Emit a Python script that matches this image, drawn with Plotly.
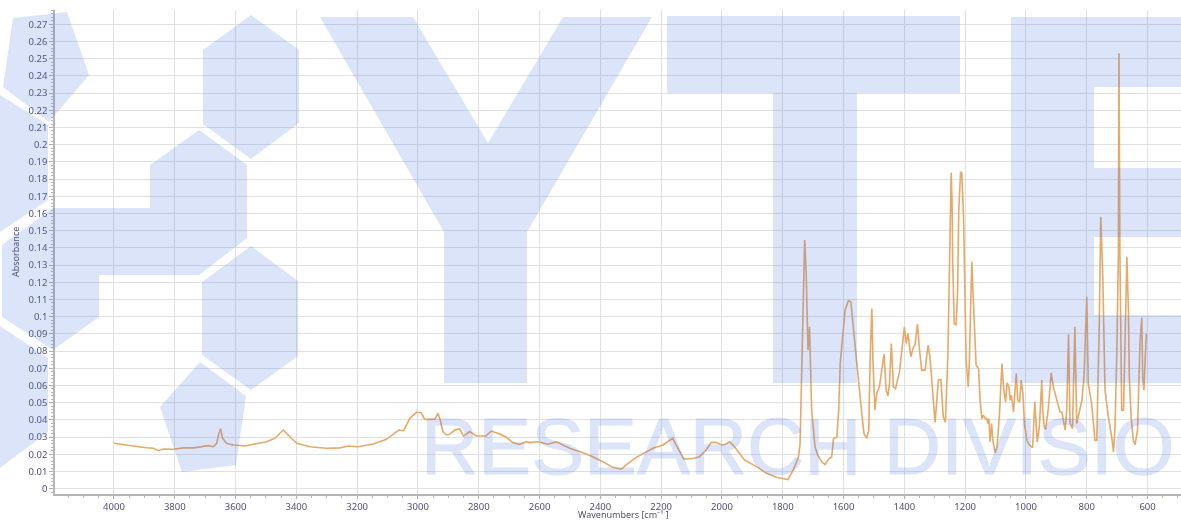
import plotly.graph_objects as go

wavenumbers = [4000,3980,3936,3893,3871,3854,3838,3805,3772,3739,3706,3690,3673,3662,3656,3649,3643,3630,3608,3569,3542,3498,3471,3454,3443,3427,3399,3355,3301,3257,3229,3197,3147,3104,3063,
 3047,3027,3005,2989,2978,2962,2945,2934,2927,2918,2907,2896,2879,2863,2850,2830,2808,2777,2759,2731,2710,2688,2666,2644,2633,2605,2573,2545,2523,2501,2457,2425,2392,2359,2331,2315,2282,2249,2227,2194,2178,2162,2151,2126,2096,2074,2052,2035,2019,1999,1988,1975,1959,1926,1882,1854,1821,1783,
 1765,1748,1743,1740,1735,1732,1728,1723,1720,1717,1712,1709,1705,1699,1694,1685,1677,1672,1661,1650,1639,1633,1622,1616,1611,1604,1595,1584,1576,1567,1559,1551,1540,1533,1524,1517,1513,1507,1503,1497,1491,1482,1474,1467,1460,1454,1449,1443,1436,1429,1416,1405,1400,1394,1388,1379,1370,1365,1357,1349,1343,1332,1322,1316,1307,1299,1288,1280,1272,1265,
 1257,1254,1250,1246,1243,1241,1236,1230,1225,1221,1215,1211,1205,1201,1197,1190,1186,1181,1178,1175,1169,1164,1156,1151,1145,1140,1134,1129,1125,1122,1118,1113,1109,1101,1095,1087,1079,1074,1067,1062,1056,1052,1048,1041,1032,1027,1021,1016,1010,1005,997,988,978,
 971,963,956,948,945,940,935,926,917,910,899,888,882,871,866,860,855,847,839,833,816,809,800,795,784,773,767,764,759,754,747,740,729,718,712,707,701,696,694,691,688,685,679,673,668,663,660,654,647,641,633,625,619,616,612,608,604,600]

absorbance = [.0264,.0260,.0248,.0238,.0235,.0221,.0231,.0229,.0237,.0237,.0246,.0250,.0244,.0264,.0312,.0349,.0293,.0264,.0254,.0248,.0258,.0273,.0293,.0326,.0341,.0312,.0264,.0244,.0235,.0237,.0248,.0244,.0260,.0287,.0341,
 .0337,.0409,.0444,.0442,.0403,.0403,.0403,.0438,.0399,.0332,.0312,.0316,.0341,.0347,.0306,.0332,.0306,.0306,.0335,.0318,.0299,.0268,.0258,.0273,.0268,.0273,.0258,.0272,.0254,.0235,.0209,.0186,.0157,.0124,.0113,.0138,.0182,.0215,.0235,.0254,.0273,.0293,.0254,.0173,.0175,.0186,.0225,.0270,.0268,.0254,.0258,.0273,.0244,.0167,.0124,.0089,.0066,.0053,
 .0111,.0185,.0262,.0476,.0864,.1174,.1446,.1252,.0999,.0806,.0941,.0728,.0456,.0340,.0243,.0195,.0175,.0156,.0140,.0171,.0185,.0292,.0301,.0456,.0728,.0864,.1038,.1093,.1087,.0922,.0767,.0631,.0437,.0321,.0292,.0340,.0728,.1048,.0728,.0456,.0553,.0592,.0709,.0782,.0573,.0540,.0612,.0844,.0592,.0582,.0679,.0883,.0941,.0844,.0903,.0767,.0825,.0835,.0957,.0786,.0689,.0689,.0835,.0767,.0553,.0385,.0632,.0635,.0418,.0385,
 .0766,.1135,.1601,.1837,.1659,.1329,.0960,.0951,.1135,.1620,.1843,.1833,.1562,.1135,.0747,.0592,.0747,.1135,.1319,.1174,.0941,.0718,.0698,.0514,.0407,.0427,.0407,.0407,.0378,.0407,.0272,.0378,.0281,.0208,.0243,.0437,.0728,.0592,.0504,.0615,.0592,.0514,.0543,.0446,.0669,.0514,.0504,.0631,.0553,.0378,.0281,.0252,.0239,
 .0505,.0272,.0359,.0631,.0456,.0359,.0344,.0475,.0673,.0592,.0524,.0446,.0446,.0340,.0456,.0898,.0378,.0349,.0941,.0378,.0514,.0650,.1116,.0611,.0495,.0281,.0281,.0534,.0941,.1581,.1213,.0572,.0417,.0301,.0213,.0359,.0805,.1368,.2532,.1368,.0844,.0456,.0456,.1038,.1348,.1038,.0650,.0417,.0281,.0256,.0340,.0844,.0995,.0650,.0572,.0747,.0902]

X_TITLE = "Wavenumbers [cm\u207b\u00b9 ]"
Y_TITLE = "Absorbance"
WATERMARK_TEXT = "RESEARCH DIVISIO"

W, H = 1181, 521
L, R, T, B = 55, 0, 10, 27
TICK_FONT = dict(family="Noto Sans", size=9.5, color="#50507a")
WM = "rgba(75,120,225,0.20)"

watermark_polys = [
    [(13,18),(67,12),(89,75),(49,122),(3,87)],
    [(0,95),(48,125),(48,200),(0,232)],
    [(0,326),(48,358),(48,432),(0,468)],
    [(199,130),(247,165),(247,238),(199,275),(99,275),(99,317),(53,350),(2,317),(2,245),(53,208),(150,208),(150,165)],
    [(251,15),(299,50),(299,123),(251,159),(203,124),(203,50)],
    [(251,246),(298,281),(298,356),(251,390),(202,355),(202,282)],
    [(200,362),(246,396),(236,465),(182,472),(160,407)],
    [(320,17),(413,17),(488,143),(563,17),(652,17),(527,232),(527,383),(444,383),(444,232)],
    [(667,16),(960,16),(960,93),(857,93),(857,383),(773,383),(773,93),(667,93)],
    [(1011,17),(1181,17),(1181,87),(1094,87),(1094,168),(1181,168),(1181,237),(1094,237),(1094,315),(1181,315),(1181,383),(1011,383)],
]

def to_paper(p):
    return (p[0]-L)/(W-L-R), (H-B-p[1])/(H-T-B)

shapes = []
for poly in watermark_polys:
    pts = [to_paper(p) for p in poly]
    path = "M " + " L ".join(f"{x:.5f},{y:.5f}" for x, y in pts) + " Z"
    shapes.append(dict(type="path", xref="paper", yref="paper", path=path,
                       fillcolor=WM, line=dict(width=0), layer="above"))

TITLE_FONT = dict(family="Noto Sans", size=9, color="#50507a")
fig = go.Figure(go.Scatter(x=wavenumbers, y=absorbance, mode="lines",
                           line=dict(color="#e8a866", width=1.6), hoverinfo="skip"))
fig.update_layout(
    width=W, height=H, margin=dict(l=L, r=R, t=T, b=B, autoexpand=False),
    paper_bgcolor="white", plot_bgcolor="white", showlegend=False,
    shapes=shapes,
    annotations=[
        dict(text=WATERMARK_TEXT, xref="paper", yref="paper",
             x=(423-L-4)/(W-L-R), y=(H-B-476)/(H-T-B), xanchor="left", yanchor="bottom",
             yshift=-17, showarrow=False, align="left", opacity=0.2,
             font=dict(family="Liberation Sans", size=79.3, color="rgb(75,120,225)")),
        dict(text=X_TITLE, xref="paper", yref="paper",
             x=(623-L)/(W-L-R), y=(H-B-521)/(H-T-B), xanchor="center", yanchor="bottom",
             borderpad=0, yshift=-1, showarrow=False, font=TITLE_FONT),
        dict(text=Y_TITLE, xref="paper", yref="paper", textangle=-90,
             x=(15-L)/(W-L-R), y=(H-B-252)/(H-T-B), xanchor="center", yanchor="middle",
             showarrow=False, font=TITLE_FONT),
    ],
    xaxis=dict(range=[4194, 490], dtick=200, tick0=0, ticks="outside", ticklen=3, tickcolor="#b0b0b0",
               showline=True, linecolor="#b5b5b5", linewidth=1.5, showgrid=True, gridcolor="#e0e0e0", gridwidth=1.4,
               zeroline=False, tickfont=TICK_FONT, automargin=False,
               minor=dict(dtick=50, tick0=0, ticks="outside", ticklen=2, tickcolor="#b8b8b8", showgrid=False)),
    yaxis=dict(range=[-0.0031, 0.2783], dtick=0.01, tick0=0, tickformat=".2~f", ticks="outside", ticklen=4, tickcolor="#b0b0b0",
               showline=True, linecolor="#b5b5b5", linewidth=1.5, showgrid=True, gridcolor="#e0e0e0", gridwidth=1.4,
               zeroline=False, tickfont=TICK_FONT, automargin=False,
               minor=dict(dtick=0.002, tick0=0, ticks="outside", ticklen=2, tickcolor="#b8b8b8", showgrid=False)),
)
fig.write_html("out.html", config=dict(displayModeBar=False),
               post_script="document.body.style.margin='0';document.documentElement.style.overflow='hidden';"
                           "document.querySelectorAll('.main-svg').forEach(function(s){s.style.filter='blur(0.4px)';});"
                           "document.querySelectorAll('.annotation-text').forEach(function(t){if(t.textContent.indexOf('RESEARCH')===0){t.style.stroke='rgb(75,120,225)';t.style.strokeWidth='1px';}});")
